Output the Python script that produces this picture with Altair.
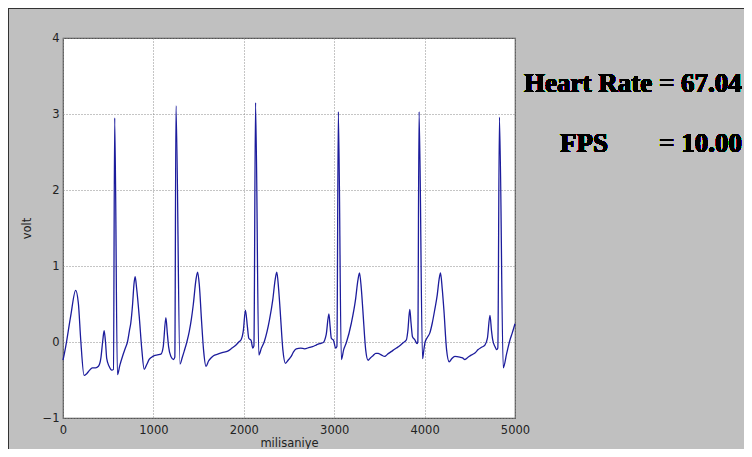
import altair as alt
import pandas as pd

# ECG trace
ms = [0, 30, 85, 140, 170, 196, 233, 260, 288, 325, 360, 392, 418, 440, 455, 470, 484, 510, 540, 558,
      572, 602, 630, 658, 690, 713, 735, 750, 770, 785, 798, 815, 843, 872, 898, 925, 953, 980, 1009, 1045,
      1083, 1109, 1138, 1155, 1168, 1194, 1223, 1237, 1250, 1294, 1320, 1341, 1370, 1397, 1420, 1441,
      1471, 1489, 1508, 1533, 1556, 1582, 1610, 1637, 1665, 1711, 1760, 1822, 1870, 1914, 1945, 1970,
      1995, 2018, 2040, 2055, 2081, 2099, 2112, 2130, 2166, 2195, 2228, 2284, 2320, 2347, 2365, 2385, 2402,
      2432, 2461, 2490, 2524, 2550, 2580, 2630, 2672, 2727, 2760, 2801, 2840, 2875, 2912, 2941, 2955,
      2968, 2993, 3016, 3030, 3046, 3079, 3105, 3134, 3190, 3235, 3262, 3280, 3300, 3318, 3348, 3375, 3400,
      3429, 3460, 3485, 3520, 3559, 3590, 3614, 3650, 3688, 3725, 3762, 3799, 3815, 3836, 3850, 3866,
      3891, 3917, 3925, 3939, 3977, 3990, 4002, 4030, 4058, 4085, 4113, 4140, 4160, 4176, 4195, 4213, 4243,
      4272, 4300, 4335, 4390, 4420, 4446, 4480, 4520, 4560, 4593, 4630, 4667, 4695, 4723, 4740, 4753,
      4778, 4797, 4810, 4828, 4870, 4908, 4945, 4970, 5000]
volt = [-0.24, -0.06, 0.34, 0.68, 0.51, 0.03, -0.44, -0.42, -0.38, -0.34, -0.34, -0.32, -0.22, 0.02,
        0.15, 0.0, -0.22, -0.32, -0.37, -0.36,
        2.95, -0.43, -0.30, -0.19, -0.08, 0.0, 0.15, 0.25, 0.50, 0.76, 0.86, 0.70, 0.34, -0.10, -0.36, -0.30,
        -0.23, -0.20, -0.18, -0.17,
        -0.16, -0.06, 0.32, 0.10, -0.06, -0.19, -0.23, -0.20, 3.11, -0.29, -0.20, -0.12, 0.0, 0.14,
        0.30, 0.49,
        0.82, 0.92, 0.75, 0.27, -0.12, -0.32, -0.25, -0.21, -0.18, -0.16, -0.14, -0.12, -0.08, -0.04,
        0.0, 0.03,
        0.15, 0.42, 0.20, 0.05, 0.02, -0.08, -0.05, 3.15, -0.17, -0.08, 0.01, 0.29, 0.55, 0.82, 0.92, 0.70,
        0.42,
        -0.10, -0.28, -0.24, -0.19, -0.13, -0.09, -0.08, -0.09, -0.07, -0.06, -0.04, -0.02, -0.01,
        0.10, 0.37, 0.20,
        0.05, 0.02, -0.08, -0.06, 3.03, -0.23, -0.10, -0.01, 0.25, 0.55, 0.81, 0.91, 0.70, 0.40, -0.10,
        -0.24, -0.21,
        -0.18, -0.15, -0.15, -0.17, -0.19, -0.16, -0.14, -0.11, -0.08, -0.05, -0.01, 0.03, 0.15, 0.43,
        0.25, 0.07,
        0.03, -0.02, 0.0, 3.03, -0.22, -0.12, -0.02, 0.06, 0.12, 0.25, 0.43, 0.62, 0.82, 0.91, 0.70, 0.43,
        -0.10,
        -0.26, -0.22, -0.19, -0.20, -0.21, -0.23, -0.20, -0.17, -0.14, -0.10, -0.07, -0.04, 0.05,
        0.35, 0.15, 0.03,
        -0.06, -0.10, -0.08, 2.96, -0.34, -0.15, 0.03, 0.12, 0.24]

x_ticks = [0, 1000, 2000, 3000, 4000, 5000]
y_ticks = [-1, 0, 1, 2, 3, 4]
heart_rate_text = "Heart Rate = 67.04"
fps_label = "FPS"
fps_value = "= 10.00"

df = pd.DataFrame({"ms": ms, "volt": volt})

W, H = 452, 380
PAD = {"left": 55, "top": 30, "right": 229, "bottom": 31}

axis_common = dict(
    grid=True, gridColor="#8a8a8a", gridDash=[1, 2], gridWidth=1,
    domain=False, ticks=False,
    labelFont="DejaVu Sans", labelFontSize=11.5, labelColor="#222222",
    titleFont="DejaVu Sans", titleFontSize=11.5, titleFontWeight="normal", titleColor="#222222",
)

line = alt.Chart(df).mark_line(color="#1c1c9c", strokeWidth=1.3, interpolate="monotone").encode(
    x=alt.X("ms:Q", title="milisaniye",
            scale=alt.Scale(domain=[0, 5000], nice=False),
            axis=alt.Axis(values=x_ticks, format="d", labelPadding=6, titlePadding=2,
                          labelFlush=False, **axis_common)),
    y=alt.Y("volt:Q", title="volt",
            scale=alt.Scale(domain=[-1, 4], nice=False),
            axis=alt.Axis(values=y_ticks, format="d", labelPadding=4, titlePadding=10,
                          labelFlush=False, **axis_common)),
)

border_left = alt.Chart(df).mark_rule(color="#333333", strokeWidth=1).encode(
    x=alt.value(-54.5), y=alt.value(-29.5), y2=alt.value(H + PAD["bottom"]))
border_top = alt.Chart(df).mark_rule(color="#333333", strokeWidth=1).encode(
    x=alt.value(-54.5), x2=alt.value(W + PAD["right"]), y=alt.value(-29.5))

txt_style = dict(font="Liberation Serif", fontWeight="bold", fontSize=27,
                 color="black", align="left", baseline="alphabetic")
t1 = alt.Chart(df).mark_text(text=heart_rate_text, **txt_style).encode(
    x=alt.value(461), y=alt.value(54))
t2 = alt.Chart(df).mark_text(text=fps_label, **txt_style).encode(
    x=alt.value(497), y=alt.value(114))
t3 = alt.Chart(df).mark_text(text=fps_value, **txt_style).encode(
    x=alt.value(596), y=alt.value(114))

chart = alt.layer(line, border_left, border_top, t1, t2, t3).properties(
    width=W, height=H, padding=PAD,
    autosize=alt.AutoSizeParams(type="none"),
    background="#c0c0c0",
).configure_view(stroke="#555555", strokeWidth=1.2, fill="white")

chart.save("out.html", embed_options={"renderer": "svg", "actions": False})
